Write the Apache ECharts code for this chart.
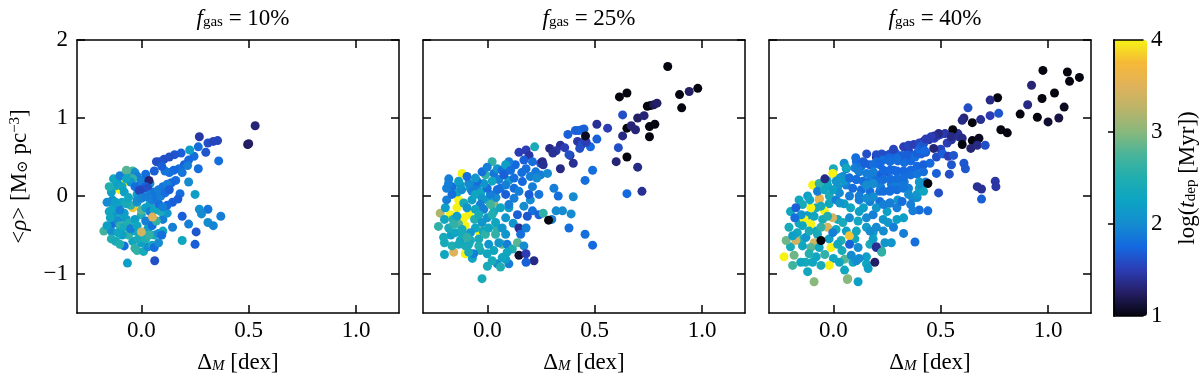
<!DOCTYPE html>
<html>
<head>
<meta charset="utf-8">
<script src="https://cdn.jsdelivr.net/npm/echarts@6/dist/echarts.min.js"></script>
<style>
html, body { margin: 0; padding: 0; background: #fff; }
#chart { width: 1200px; height: 379px; }
</style>
</head>
<body>
<div id="chart"></div>
<script>
// panel titles (gas fraction) and axis ticks
var panelTitles = ['10%', '25%', '40%'];
var xTicks = [0, 0.5, 1.0];
var yTicks = [-1, 0, 1, 2];
var cbarTicks = [1, 2, 3, 4];

// [delta_M, <rho>, log t_dep]
var gas10 = [
  [-0.10,0.08,4.0],[-0.07,0.19,4.0],[-0.04,-0.15,3.8],
  [-0.175,-0.45,2.7],[-0.14,-0.45,2.0],[-0.14,-0.55,2.5],[-0.12,-0.58,2.4],[-0.08,-0.64,1.8],[-0.04,-0.58,2.3],
  [-0.03,-0.67,2.6],[-0.02,-0.70,2.6],[0.01,-0.71,2.4],[0.03,-0.65,2.0],[0.05,-0.63,2.3],[0.06,-0.66,1.8],
  [-0.13,-0.35,1.8],[-0.12,-0.25,2.1],[-0.13,-0.15,2.3],[-0.135,-0.05,2.1],[-0.14,0.05,2.2],[-0.12,0.13,2.4],
  [-0.11,0.16,2.2],[-0.09,0.12,2.3],[-0.06,0.28,2.0],[-0.04,0.32,2.7],[-0.03,0.30,2.0],[-0.02,0.25,1.9],
  [-0.04,0.22,2.6],[-0.05,0.18,2.1],[-0.08,0.05,2.2],[-0.05,-0.12,2.6],
  [-0.16,-0.38,2.2],[-0.15,-0.20,2.3],[-0.16,-0.08,2.0],[-0.10,-0.28,2.4],[-0.09,-0.08,2.3],[-0.02,0.02,2.2],
  [0.04,-0.10,2.3],[0.06,-0.50,2.4],[-0.06,-0.50,2.6],[-0.10,-0.62,2.5],[0.0,-0.60,2.2],[0.08,-0.60,2.0],
  [-0.13,0.22,2.3],[-0.10,0.26,1.9],[-0.07,0.33,2.8],[0.04,0.16,2.0],[-0.01,0.14,1.9],[0.0,-0.24,2.5],
  [0.05,-0.28,2.4],[-0.03,-0.45,2.3],[-0.07,-0.30,2.2],[0.10,-0.30,1.9],[0.12,-0.22,2.1],
  [-0.11,-0.32,2.0],[-0.10,-0.38,2.6],[-0.08,-0.40,2.4],[-0.06,-0.35,2.5],[-0.05,-0.42,1.9],[-0.03,-0.30,2.2],
  [-0.02,-0.38,2.3],[0.02,-0.32,1.9],[0.03,-0.42,2.2],[0.05,-0.38,1.8],[0.07,-0.32,2.6],[0.09,-0.20,2.4],
  [0.08,-0.48,2.0],[0.10,-0.45,2.3],[0.095,-0.50,1.8],
  [-0.08,-0.22,2.2],[-0.07,-0.10,2.4],[-0.10,-0.18,1.9],[-0.06,-0.02,2.3],[-0.02,-0.08,2.1],[0.0,-0.18,2.8],
  [0.02,-0.15,2.2],[0.04,-0.20,1.9],[0.06,-0.18,2.3],[0.08,-0.10,1.8],[-0.015,-0.55,2.4],[0.02,-0.55,2.5],
  [0.035,-0.50,2.6],[-0.09,-0.50,2.2],[-0.11,-0.47,2.3],
  [-0.03,0.12,1.8],[-0.07,0.22,2.3],[0.0,0.20,1.9],[0.02,0.28,1.8],[-0.12,-0.08,2.2],[-0.145,-0.28,2.3],[-0.15,0.12,2.5],
  [0.0,-0.46,3.4],[0.052,-0.27,3.5],
  [0.53,0.90,1.3],[0.495,0.66,1.2],[0.50,0.67,1.25],
  [0.27,0.76,1.45],[0.31,0.68,1.6],[0.335,0.70,1.55],[0.355,0.71,1.55],[0.36,0.45,1.8],
  [0.265,0.63,1.8],[0.30,0.56,1.65],[0.245,0.51,1.8],[0.265,0.35,1.8],[0.225,0.59,2.2],
  [0.185,0.55,1.7],[0.155,0.53,1.65],[0.13,0.50,1.6],[0.105,0.47,1.6],[0.085,0.44,1.65],[0.07,0.44,1.6],
  [0.22,0.46,1.75],[0.20,0.40,1.7],[0.175,0.35,1.8],[0.15,0.33,1.75],[0.13,0.30,1.8],[0.11,0.32,1.85],[0.095,0.38,1.7],
  [0.215,0.39,1.9],[0.19,0.30,1.85],[0.22,0.18,2.0],[0.16,0.20,1.8],[0.14,0.17,1.75],
  [0.06,0.32,1.7],[0.035,0.20,1.3],[0.02,0.12,1.7],[0.0,0.08,1.6],[-0.01,0.07,1.55],[0.03,0.10,1.6],
  [-0.02,-0.05,2.0],[0.0,-0.03,1.95],[0.02,-0.01,1.9],[0.04,0.02,1.9],[0.06,0.05,1.85],[0.08,0.08,1.9],[0.10,0.12,1.85],[0.12,0.15,1.9],
  [0.05,-0.05,1.9],[0.07,-0.03,1.85],[0.09,0.0,1.9],[0.11,0.04,1.8],[0.13,0.08,1.7],
  [0.18,0.03,1.8],[0.17,-0.04,1.7],[0.145,-0.08,1.7],[0.12,-0.12,1.75],[0.10,-0.14,1.9],
  [0.25,0.02,2.2],[0.27,-0.17,2.05],[0.31,-0.17,1.85],[0.28,-0.23,2.0],[0.37,-0.26,1.9],[0.31,-0.34,2.0],
  [0.335,-0.38,1.95],[0.19,-0.26,1.7],[0.22,-0.36,1.9],[0.255,-0.46,1.65],[0.145,-0.40,1.9],[0.19,-0.57,2.3],
  [0.25,-0.62,1.7],[0.062,-0.83,1.6],[-0.065,-0.86,2.2]
];

var gas25 = [
  [-0.118,0.29,4.0],[-0.134,-0.05,4.0],[-0.142,-0.15,4.0],[-0.173,-0.24,4.0],[-0.11,-0.28,4.0],[-0.087,-0.24,4.0],
  [-0.103,-0.38,4.0],[-0.04,-0.45,4.0],[-0.103,-0.74,4.0],[-0.126,-0.09,4.0],
  [-0.157,-0.72,3.5],[-0.22,-0.22,3.2],[0.03,-0.09,3.0],[-0.134,-0.36,2.8],
  [-0.20,-0.30,2.3],[-0.20,-0.60,2.4],[-0.17,-0.50,2.2],[-0.16,-0.30,2.5],[-0.14,0.05,2.3],[-0.12,0.08,2.0],
  [-0.08,0.10,2.2],[-0.05,0.12,1.9],[-0.03,0.05,2.3],[0.0,-0.05,2.2],[0.04,-0.02,2.0],[0.06,0.10,1.8],
  [0.03,-0.20,2.4],[-0.02,-0.45,2.3],[-0.06,-0.30,2.5],[-0.10,-0.50,2.7],[-0.07,-0.80,2.3],[0.0,-0.90,2.4],
  [0.10,-0.15,2.2],[0.12,-0.35,2.1],[0.08,0.30,1.9],[0.10,0.20,2.2],[0.16,0.30,1.8],[0.20,-0.05,2.0],
  [-0.18,0.22,1.9],[-0.20,-0.75,2.3],
  [-0.025,-1.06,2.4],[-0.001,-0.74,2.3],[-0.033,-0.70,2.4],[-0.064,-0.74,1.9],[-0.087,-0.72,2.4],
  [-0.165,-0.64,2.5],[-0.126,-0.57,2.3],[-0.087,-0.62,2.4],[-0.04,-0.55,2.4],[0.006,-0.62,2.1],[-0.009,-0.49,2.6],
  [-0.056,-0.41,2.3],[-0.079,-0.47,2.1],[-0.118,-0.49,2.4],[-0.15,-0.47,2.3],[-0.18,-0.41,2.4],[-0.204,-0.53,2.4],
  [-0.228,-0.39,2.6],[-0.196,-0.15,2.2],[-0.142,-0.26,2.2],[-0.157,-0.36,2.6],
  [-0.19,-0.05,1.9],[-0.165,0.02,1.8],[-0.11,-0.09,2.4],[-0.095,-0.15,2.1],[-0.072,-0.05,2.2],[-0.072,0.06,1.9],
  [-0.056,0.02,2.3],[-0.025,-0.03,2.1],[-0.033,-0.11,1.9],[-0.056,-0.17,2.3],[-0.017,-0.17,1.9],[0.014,-0.11,2.7],
  [0.014,0.02,1.9],[-0.001,0.10,1.8],[-0.017,0.16,2.1],[-0.048,0.19,1.8],[-0.087,0.16,2.0],[-0.126,0.14,2.1],
  [-0.165,0.12,1.8],[-0.19,0.10,1.9],[-0.181,0.16,1.9],[-0.134,0.19,2.2],[-0.095,0.25,1.8],[-0.056,0.23,2.1],
  [-0.009,0.27,2.6],[-0.025,0.31,1.8],[0.022,0.44,2.6],[-0.001,0.37,1.9],[0.03,0.29,1.85],[0.046,0.35,2.1],
  [0.069,0.33,1.8],[0.053,0.21,1.9],[0.022,0.19,2.3],[0.085,0.14,1.9],[0.046,0.08,1.8],[0.085,0.02,1.7],
  [0.10,-0.11,1.9],[0.124,0.10,1.8],
  [-0.04,-0.24,2.4],[-0.001,-0.28,2.1],[0.022,-0.24,2.5],[-0.025,-0.34,2.1],[0.006,-0.41,2.3],[-0.079,-0.57,2.4],
  [-0.04,-0.64,2.5],[-0.103,-0.64,2.4],[-0.134,-0.62,2.4],[-0.095,-0.53,2.6],[-0.118,-0.43,2.4],
  [0.046,-0.41,2.6],[0.085,-0.49,2.1],[0.069,-0.62,2.8],[0.092,-0.62,1.9],[0.116,-0.68,2.5],[0.092,-0.72,2.3],[0.10,-0.87,1.9],
  [0.061,-0.15,2.3],[0.085,-0.28,2.1],[0.038,-0.34,2.3],[0.069,-0.41,2.1],[0.038,-0.49,2.6],[0.053,-0.60,2.1],
  [0.03,-0.70,2.3],[0.085,-0.81,2.2],[0.046,-0.87,2.0],[0.061,-0.91,2.5],[0.069,-0.79,2.3],[0.022,-0.83,2.4],
  [0.22,0.63,2.4],[0.18,0.59,1.5],[0.147,0.56,1.5],[0.194,0.52,1.45],[0.17,0.46,1.7],[0.21,0.44,1.8],
  [0.248,0.42,1.6],[0.256,0.44,1.35],[0.225,0.31,1.85],[0.248,0.27,1.9],[0.20,0.25,1.9],[0.18,0.35,1.8],
  [0.13,0.40,1.75],[0.10,0.44,1.9],[0.085,0.40,2.2],[0.108,0.33,1.8],[0.077,0.27,1.7],[0.124,0.23,1.8],
  [0.163,0.185,1.75],[0.21,0.12,1.9],[0.24,0.02,1.85],[0.194,0.02,1.7],[0.147,0.06,1.9],[0.124,-0.03,1.9],
  [0.17,-0.13,2.0],[0.21,-0.19,1.8],[0.24,-0.24,1.7],[0.186,-0.26,1.65],[0.14,-0.24,1.7],[0.147,-0.41,1.4],
  [0.18,-0.41,1.9],[0.155,-0.49,1.8],[0.14,-0.60,2.8],[0.17,-0.64,2.0],[0.147,-0.76,1.1],[0.18,-0.74,1.5],
  [0.217,-0.83,1.35],[0.18,-0.85,1.7],
  [0.26,0.40,1.4],[0.29,0.61,1.35],[0.34,0.65,1.4],[0.385,0.52,1.4],[0.40,0.42,1.4],[0.43,0.61,1.6],
  [0.425,0.84,1.7],[0.455,0.71,1.4],[0.375,0.79,1.7],[0.51,0.73,1.7],[0.48,0.63,1.75],[0.49,0.33,1.8],
  [0.455,0.20,1.8],[0.34,0.35,1.35],[0.28,0.29,2.0],[0.23,0.23,2.0],[0.31,0.10,1.9],[0.33,0.0,1.8],
  [0.40,-0.01,2.0],[0.32,-0.19,2.0],[0.35,-0.19,2.0],[0.39,-0.23,2.0],[0.38,-0.41,1.8],[0.455,-0.49,1.8],
  [0.49,-0.63,1.75],[0.26,-0.22,2.6],[0.30,-0.30,1.9],[0.285,-0.31,1.0],
  [0.32,0.58,1.45],[0.305,0.55,1.4],[0.36,0.62,1.5],[0.38,0.53,1.6],[0.42,0.70,1.45],[0.44,0.66,1.6],
  [0.46,0.69,1.5],[0.41,0.84,1.7],[0.44,0.85,1.75],[0.45,0.86,1.7],[0.457,0.77,1.05],
  [0.56,0.87,1.5],[0.51,0.92,1.4],[0.63,1.04,1.6],[0.61,0.62,1.6],[0.60,0.44,1.3],[0.63,0.77,1.35],
  [0.65,0.87,1.0],[0.67,0.90,1.3],[0.69,0.85,1.3],[0.65,0.50,1.0],[0.70,0.37,1.35],[0.65,0.03,1.75],[0.72,0.06,1.4],
  [0.615,1.27,1.0],[0.65,1.32,1.0],[0.70,1.0,1.25],[0.73,1.03,1.3],
  [0.745,1.15,1.0],[0.76,1.16,1.0],[0.775,1.17,1.2],[0.79,1.19,1.25],
  [0.755,0.89,1.0],[0.78,0.92,1.0],[0.755,0.76,1.0],
  [0.84,1.66,1.0],[0.895,1.30,1.0],[0.94,1.34,1.25],[0.98,1.38,1.0],[0.905,1.13,1.0]
];

var gas40 = [
  [-0.20,-0.20,2.3],[-0.20,-0.65,2.4],[-0.16,-0.35,2.3],[-0.12,-0.25,2.2],[-0.14,-0.55,2.5],[-0.08,-0.45,2.3],
  [-0.05,-0.30,2.4],[-0.02,-0.55,2.2],[0.02,-0.30,2.3],[0.04,-0.70,2.4],[0.06,-0.45,2.2],[-0.04,-0.75,2.6],
  [-0.08,-0.78,2.3],[-0.13,-0.85,2.4],[0.0,-0.80,2.3],[0.10,-0.55,2.3],[0.12,-0.20,2.2],[0.08,-0.15,2.3],
  [0.05,-0.10,2.2],[-0.02,-0.10,2.3],[-0.12,0.0,2.2],[-0.16,-0.05,2.3],[-0.08,-0.15,2.4],[0.02,0.12,2.1],
  [-0.03,0.20,2.3],[0.0,0.35,2.4],[0.05,0.42,2.0],
  [-0.23,-0.78,4.0],[-0.011,-0.66,4.0],[-0.019,-0.89,4.0],[-0.136,-0.30,4.0],[-0.105,-0.36,4.0],
  [-0.042,-0.19,4.0],[-0.105,-0.15,4.0],[-0.097,0.14,4.0],[-0.003,0.29,4.0],[0.075,-0.51,3.8],
  [-0.09,-0.60,3.4],[-0.175,-0.57,3.4],[-0.003,-0.28,3.4],[-0.027,-0.40,3.5],[-0.066,-0.05,3.5],[-0.065,-0.03,3.6],
  [-0.22,-0.57,2.9],[-0.183,-0.76,2.9],[-0.09,-1.10,3.0],[0.067,-1.06,3.0],[-0.105,-0.66,2.8],[0.052,-0.81,2.8],
  [0.107,0.44,1.8],[0.138,0.44,1.7],[0.17,0.40,1.7],[0.115,0.33,2.6],[0.06,0.35,1.9],[0.044,0.25,2.0],
  [0.075,0.23,1.8],[0.107,0.21,1.8],[0.138,0.19,1.8],[0.17,0.19,1.8],[0.216,0.27,1.7],[0.25,0.31,1.7],[0.28,0.33,1.7],
  [0.06,0.14,1.9],[0.09,0.10,1.8],[0.13,0.08,1.8],[0.17,0.06,1.8],[0.216,0.06,1.8],[0.263,0.06,1.8],[0.075,0.0,1.9],
  [0.12,-0.05,1.9],[0.17,-0.07,1.9],[0.216,-0.07,1.8],[0.263,-0.09,1.8],
  [-0.066,0.16,2.6],[-0.027,0.14,2.3],[-0.074,0.06,1.9],[-0.042,0.08,2.3],[-0.019,0.0,2.4],[0.0125,-0.05,1.9],
  [0.03,-0.09,2.1],[-0.11,-0.05,2.3],[-0.144,-0.11,2.4],[-0.175,-0.15,1.7],[-0.15,-0.24,2.1],[-0.18,-0.28,1.8],
  [-0.09,-0.26,2.3],[0.0125,-0.43,2.3],[0.044,-0.34,2.4],[0.075,-0.28,2.0],[0.115,-0.32,2.3],[0.154,-0.28,2.0],
  [0.185,-0.24,1.9],[0.232,-0.30,2.1],[0.255,-0.34,2.1],[0.154,-0.40,2.2],[0.185,-0.47,2.2],[0.107,-0.45,2.3],
  [0.036,-0.57,2.5],[0.075,-0.62,1.7],[-0.003,-0.47,1.9],[-0.128,-0.53,2.1],[-0.168,-0.47,2.3],
  [-0.19,-0.51,2.2],[-0.144,-0.64,2.3],[-0.066,-0.66,2.3],[0.02,-0.62,2.3],[-0.113,-0.74,2.5],[-0.19,-0.89,2.7],
  [-0.152,-0.85,2.3],[-0.097,-0.85,2.3],[-0.058,-0.89,2.4],[0.028,-0.85,2.3],[0.091,-0.85,2.3],[0.083,-0.76,2.0],
  [0.115,-0.66,2.0],[0.154,-0.87,2.3],[-0.12,-0.97,2.3],[0.115,-1.10,2.2],[0.193,-0.85,1.25],[0.20,-0.66,1.5],
  [0.224,-0.70,2.6],[0.17,-0.62,2.4],[0.185,-0.55,2.2],[-0.058,-0.13,2.4],[-0.027,-0.26,2.5],[-0.113,-0.45,2.4],
  [-0.058,-0.40,2.6],[-0.074,-0.49,2.4],[0.0125,0.19,2.1],[0.028,0.04,2.0],[-0.003,0.08,2.2],[-0.144,-0.38,2.3],
  [-0.207,-0.40,2.4],[-0.04,0.22,1.35],[0.03,0.23,2.1],[0.05,0.19,2.1],[0.06,0.36,2.3],[0.104,0.49,1.8],
  [-0.058,-0.57,1.0],[0.065,-1.07,3.0],[0.052,-0.95,2.3],
  [0.20,0.50,1.3],[0.24,0.52,1.6],[0.263,0.54,1.6],[0.155,0.54,1.6],[0.20,0.53,1.6],[0.225,0.54,1.6],
  [0.10,0.36,1.9],[0.13,0.38,1.85],[0.20,0.44,1.8],[0.23,0.46,1.8],[0.26,0.49,1.75],[0.29,0.55,1.7],
  [0.30,0.45,1.8],[0.33,0.43,1.8],[0.36,0.45,1.75],[0.18,0.25,1.9],[0.22,0.12,1.9],[0.27,0.15,1.85],
  [0.30,0.16,1.9],[0.33,0.18,1.85],[0.12,0.0,1.9],[0.14,-0.15,2.2],[0.20,-0.15,2.1],[0.25,-0.20,2.2],
  [0.30,-0.05,2.1],[0.35,0.10,1.9],[0.48,0.50,1.6],[0.50,0.60,1.55],[0.53,0.68,1.5],[0.55,0.72,1.45],
  [0.58,0.80,1.4],[0.52,0.80,1.45],[0.35,0.58,1.5],[0.28,0.60,1.55],
  [0.327,0.63,1.5],[0.35,0.65,1.55],[0.375,0.66,1.5],[0.40,0.68,1.55],[0.42,0.70,1.5],[0.445,0.72,1.45],
  [0.47,0.74,1.5],[0.485,0.77,1.55],[0.50,0.79,1.5],
  [0.32,0.52,1.7],[0.345,0.53,1.7],[0.37,0.52,1.7],[0.39,0.53,1.75],[0.41,0.54,1.7],[0.43,0.56,1.65],
  [0.146,0.42,1.7],[0.186,0.40,1.8],[0.217,0.40,1.75],[0.264,0.44,1.8],[0.296,0.48,1.8],
  [0.12,0.31,1.9],[0.155,0.29,1.9],[0.186,0.31,1.9],
  [0.233,0.33,1.75],[0.264,0.33,1.75],[0.296,0.32,1.75],[0.327,0.32,1.75],[0.36,0.33,1.75],[0.39,0.38,1.75],
  [0.42,0.40,1.7],[0.45,0.42,1.75],
  [0.20,0.20,1.8],[0.233,0.21,1.8],[0.264,0.22,1.8],[0.296,0.22,1.8],[0.327,0.24,1.8],[0.36,0.27,1.8],
  [0.39,0.28,1.85],[0.42,0.31,1.8],
  [0.154,0.14,2.0],[0.186,0.16,2.0],[0.075,0.23,1.8],[0.107,0.21,1.8],
  [0.233,0.06,1.8],[0.264,0.07,1.8],[0.296,0.08,1.8],[0.327,0.10,1.85],
  [0.37,-0.03,2.0],[0.39,-0.02,2.0],[0.154,-0.03,2.0],[0.186,-0.01,2.0],
  [0.233,-0.11,1.9],[0.264,-0.09,1.9],[0.296,-0.15,1.9],[0.327,-0.28,2.2],[0.296,-0.30,2.2],
  [0.40,-0.18,1.8],[0.44,-0.19,1.8],[0.38,-0.59,1.8],[0.327,-0.48,1.9],[0.27,-0.60,2.1],[0.24,-0.60,2.1],
  [0.20,-0.65,1.4],[0.225,-0.72,2.6],[0.162,-0.93,2.2],[0.154,-0.78,2.2],[0.107,-0.83,2.0],[0.12,-0.80,2.0],
  [0.233,-0.45,2.0],[0.20,-0.40,2.0],[0.17,-0.45,2.0],[0.28,-0.40,1.9],
  [0.35,0.02,2.0],[0.32,-0.07,1.8],[0.36,-0.11,1.9],[0.37,-0.19,1.9],
  [0.39,0.02,2.1],[0.40,0.10,2.2],[0.41,0.14,2.0],[0.42,0.06,2.3],[0.43,0.18,1.9],[0.40,0.18,2.1],
  [0.38,0.50,1.8],[0.39,0.55,1.7],[0.40,0.60,1.75],[0.41,0.64,1.7],[0.42,0.67,1.65],[0.425,0.58,1.75],
  [0.51,0.54,1.7],[0.535,0.51,1.5],[0.56,0.52,1.65],[0.55,0.40,1.65],[0.48,0.29,1.7],[0.54,0.28,1.6],
  [0.44,0.16,1.0],[0.49,0.04,1.6],[0.67,0.12,1.4],[0.69,0.09,1.4],[0.754,0.19,1.45],[0.757,0.12,1.45],
  [0.69,-0.04,1.7],[0.608,0.42,1.65],[0.615,0.35,1.65],
  [0.49,0.80,1.35],[0.47,0.77,1.4],[0.455,0.76,1.5],[0.43,0.73,1.5],[0.467,0.61,1.3],
  [0.556,0.85,1.0],[0.55,0.76,1.35],[0.585,0.76,1.4],[0.60,0.74,1.35],[0.647,0.71,1.0],[0.678,0.74,1.05],
  [0.64,0.61,1.3],[0.67,0.65,1.35],[0.707,0.65,1.6],[0.60,0.66,1.0],
  [0.627,1.13,1.6],[0.608,1.0,1.3],[0.60,0.97,1.35],[0.647,0.94,1.0],[0.686,0.98,1.4],
  [0.77,1.06,1.65],[0.73,1.03,1.5],[0.78,0.85,1.0],[0.81,0.81,1.0],
  [0.765,1.26,1.0],[0.73,1.23,1.35],[0.87,1.05,1.0],[0.905,1.17,1.35],
  [0.95,1.01,1.0],[1.0,0.95,1.1],[1.05,1.0,1.15],[1.075,1.14,1.05],[0.972,1.25,1.0],[1.03,1.32,1.0],
  [0.923,1.42,1.3],[0.976,1.61,1.0],[1.09,1.59,1.0],[1.10,1.47,1.0],[1.146,1.52,1.0]
];

// colour ramp of the colour bar, from 1 (bottom) to 4 (top), steps of 0.25
var cmap = ['#05050f', '#241e64', '#2c3cb4', '#1468e0', '#158cd0', '#0ca4c4', '#20aeb0',
            '#48b49a', '#88b87c', '#bab46a', '#e0b25a', '#f6b838', '#f6f214'];

var gridLeft = [77, 423, 769];
var serif = 'Liberation Serif';
var fs = 23, fsSub = 15;
var black = { color: '#000', width: 1.5 };

var grids = [], xAxes = [], yAxes = [], titles = [], series = [];
var allData = [gas10, gas25, gas40];

gridLeft.forEach(function (l, i) {
    grids.push({ left: l, top: 40, width: 322, height: 276 });
    xAxes.push({
        type: 'value', gridIndex: i, min: -0.3, max: 1.2, position: 'bottom',
        axisLine: { show: true, onZero: false, lineStyle: black },
        axisTick: { show: true, inside: true, length: 8, lineStyle: black, customValues: xTicks },
        axisLabel: { show: true, customValues: xTicks, fontFamily: serif, fontSize: fs, color: '#000', margin: 6,
            formatter: function (v) { return v.toFixed(1); } },
        splitLine: { show: false },
        name: '{d|Δ}{m|M}{n| [dex]}', nameLocation: 'middle', nameGap: 38,
        nameTextStyle: { fontFamily: serif, fontSize: fs, color: '#000', rich: {
            d: { fontFamily: serif, fontSize: fs, color: '#000' },
            m: { fontFamily: serif, fontSize: fsSub, fontStyle: 'italic', color: '#000', verticalAlign: 'bottom', lineHeight: 15, padding: [10, 0, 0, 0] },
            n: { fontFamily: serif, fontSize: fs, color: '#000' } } }
    });
    xAxes.push({
        type: 'value', gridIndex: i, min: -0.3, max: 1.2, position: 'top',
        axisLine: { show: true, onZero: false, lineStyle: black },
        axisTick: { show: true, inside: true, length: 8, lineStyle: black, customValues: xTicks },
        axisLabel: { show: false }, splitLine: { show: false }
    });
    var yLeft = {
        type: 'value', gridIndex: i, min: -1.5, max: 2, position: 'left',
        axisLine: { show: true, onZero: false, lineStyle: black },
        axisTick: { show: true, inside: true, length: 8, lineStyle: black, customValues: yTicks },
        axisLabel: { show: i === 0, customValues: yTicks, fontFamily: serif, fontSize: fs, color: '#000', margin: 9,
            formatter: function (v) { return String(v).replace('-', '\u2212'); } },
        splitLine: { show: false }
    };
    if (i === 0) {
        yLeft.name = '<{r|ρ}> [M{o|⊙} pc{s|−3}]';
        yLeft.nameLocation = 'middle';
        yLeft.nameGap = 46;
        yLeft.nameRotate = 90;
        yLeft.nameTextStyle = { fontFamily: serif, fontSize: fs, color: '#000', rich: {
            r: { fontFamily: serif, fontSize: fs, fontStyle: 'italic', color: '#000' },
            o: { fontFamily: 'DejaVu Serif', fontSize: fsSub, color: '#000', verticalAlign: 'bottom', lineHeight: 15, padding: [8, 0, 0, 0] },
            s: { fontFamily: serif, fontSize: fsSub, color: '#000', verticalAlign: 'top', lineHeight: 15, padding: [0, 0, 10, 0] } } };
    }
    yAxes.push(yLeft);
    yAxes.push({
        type: 'value', gridIndex: i, min: -1.5, max: 2, position: 'right',
        axisLine: { show: true, onZero: false, lineStyle: black },
        axisTick: { show: true, inside: true, length: 8, lineStyle: black, customValues: yTicks },
        axisLabel: { show: false }, splitLine: { show: false }
    });
    titles.push({
        text: '{f|f}{g|gas}{n| = ' + panelTitles[i] + '}',
        left: l + 161, top: 2, textAlign: 'center',
        textStyle: { fontWeight: 'normal', rich: {
            f: { fontFamily: serif, fontSize: fs, fontStyle: 'italic', fontWeight: 'normal', color: '#000' },
            g: { fontFamily: serif, fontSize: fsSub, fontWeight: 'normal', color: '#000', verticalAlign: 'bottom', lineHeight: 15, padding: [10, 0, 0, 0] },
            n: { fontFamily: serif, fontSize: fs, fontWeight: 'normal', color: '#000' } } }
    });
    series.push({
        type: 'scatter', xAxisIndex: 2 * i, yAxisIndex: 2 * i,
        symbolSize: 9, data: allData[i], itemStyle: { opacity: 1 }
    });
});

// colour bar frame and tick labels
grids.push({ left: 1114, top: 40, width: 33, height: 276 });
xAxes.push({ type: 'value', gridIndex: 3, min: 0, max: 1, position: 'bottom', z: 10,
    axisLine: { show: true, lineStyle: black }, axisTick: { show: false }, axisLabel: { show: false }, splitLine: { show: false } });
xAxes.push({ type: 'value', gridIndex: 3, min: 0, max: 1, position: 'top', z: 10,
    axisLine: { show: true, lineStyle: black }, axisTick: { show: false }, axisLabel: { show: false }, splitLine: { show: false } });
yAxes.push({ type: 'value', gridIndex: 3, min: 1, max: 4, position: 'left', z: 10,
    axisLine: { show: true, lineStyle: black }, axisTick: { show: false }, axisLabel: { show: false }, splitLine: { show: false } });
yAxes.push({ type: 'value', gridIndex: 3, min: 1, max: 4, position: 'right', z: 10,
    axisLine: { show: true, lineStyle: black },
    axisTick: { show: true, inside: true, length: 6, lineStyle: black, customValues: [2, 3] },
    axisLabel: { show: true, customValues: cbarTicks, fontFamily: serif, fontSize: fs, color: '#000', margin: 8 },
    splitLine: { show: false },
    name: 'log({t|t}{d|dep} [Myr])', nameLocation: 'middle', nameGap: 33, nameRotate: 90,
    nameTextStyle: { fontFamily: serif, fontSize: fs, color: '#000', rich: {
        t: { fontFamily: serif, fontSize: fs, fontStyle: 'italic', color: '#000' },
        d: { fontFamily: serif, fontSize: fsSub, color: '#000', verticalAlign: 'bottom', lineHeight: 15, padding: [10, 0, 0, 0] } } }
});

var chart = echarts.init(document.getElementById('chart'));
chart.setOption({
    animation: false,
    backgroundColor: '#fff',
    title: titles,
    grid: grids,
    xAxis: xAxes,
    yAxis: yAxes,
    visualMap: {
        type: 'continuous', min: 1, max: 4, dimension: 2, seriesIndex: [0, 1, 2],
        calculable: false, show: true, orient: 'vertical',
        left: 1114, top: 40, itemWidth: 33, itemHeight: 276, padding: 0,
        inRange: { color: cmap }, text: null, hoverLink: false
    },
    series: series
});
</script>
</body>
</html>
